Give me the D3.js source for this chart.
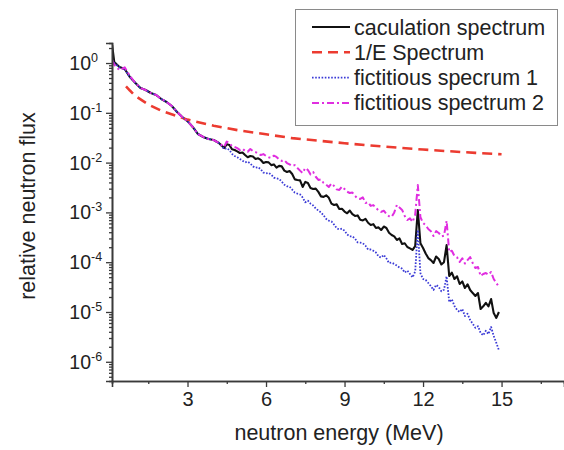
<!DOCTYPE html>
<html>
<head>
<meta charset="utf-8">
<script src="https://cdn.jsdelivr.net/npm/d3@7"></script>
<style>
  html, body { margin: 0; padding: 0; background: #fff; }
  svg { display: block; font-family: "Liberation Sans", Arial, sans-serif; }
</style>
</head>
<body>
<svg id="chart" width="564" height="450"></svg>
<script>
// Neutron energy grid (MeV): 0.2 MeV steps below 4.4 MeV, 0.1 MeV steps above
const energies = [0.12, 0.2, 0.4, 0.6, 0.8, 1.0, 1.2, 1.4, 1.6, 1.8, 2.0, 2.2, 2.4, 2.6, 2.8, 3.0,
  3.2, 3.4, 3.6, 3.8, 4.0, 4.2, 4.4, 4.5, 4.6, 4.7, 4.8, 4.9,
  5.0, 5.1, 5.2, 5.3, 5.4, 5.5, 5.6, 5.7, 5.8, 5.9,
  6.0, 6.1, 6.2, 6.3, 6.4, 6.5, 6.6, 6.7, 6.8, 6.9,
  7.0, 7.1, 7.2, 7.3, 7.4, 7.5, 7.6, 7.7, 7.8, 7.9,
  8.0, 8.1, 8.2, 8.3, 8.4, 8.5, 8.6, 8.7, 8.8, 8.9,
  9.0, 9.1, 9.2, 9.3, 9.4, 9.5, 9.6, 9.7, 9.8, 9.9,
  10.0, 10.1, 10.2, 10.3, 10.4, 10.5, 10.6, 10.7, 10.8, 10.9,
  11.0, 11.1, 11.2, 11.3, 11.4, 11.5, 11.6, 11.7, 11.8, 11.9,
  12.0, 12.1, 12.2, 12.3, 12.4, 12.5, 12.6, 12.7, 12.8, 12.9,
  13.0, 13.1, 13.2, 13.3, 13.4, 13.5, 13.6, 13.7, 13.8, 13.9,
  14.0, 14.1, 14.2, 14.3, 14.4, 14.5, 14.6, 14.7, 14.8, 14.9];

// Calculated spectrum
const calcSpectrum = [2.3, 1.05, 0.83, 0.76, 0.52, 0.40, 0.315, 0.287, 0.25, 0.228, 0.189, 0.165, 0.137, 0.104, 0.082, 0.068,
  0.052, 0.0375, 0.0327, 0.0298, 0.0284, 0.0248, 0.0196, 0.0235, 0.0226, 0.0185, 0.0179, 0.0168,
  0.0156, 0.0160, 0.0142, 0.0128, 0.0136, 0.0133, 0.0118, 0.0122, 0.0113, 0.0098,
  0.0103, 0.0101, 0.0089, 0.0092, 0.0079, 0.0086, 0.0084, 0.0069, 0.00648, 0.0068,
  0.0059, 0.0046, 0.00448, 0.0044, 0.00324, 0.0041, 0.00389, 0.0031, 0.00295, 0.0030,
  0.00258, 0.0021, 0.00205, 0.0022, 0.00196, 0.0015, 0.00141, 0.00145, 0.00117, 0.00118,
  0.00104, 0.00096, 0.00109, 0.00092, 0.000847, 0.00087, 0.00071, 0.00069, 0.00074, 0.00062,
  0.00056, 0.00058, 0.000486, 0.00050, 0.000443, 0.00052, 0.000486, 0.00039, 0.000352, 0.00033,
  0.000279, 0.00030, 0.000232, 0.00024, 0.000202, 0.00019, 0.000176, 0.00021, 0.00112, 0.00024,
  0.000193, 0.00015, 0.000121, 0.00011, 0.0000964, 0.00013, 0.000116, 0.00009, 0.00010, 0.00022,
  0.0000528, 0.000062, 0.000046, 0.000052, 0.0000365, 0.000041, 0.0000303, 0.000036, 0.0000277, 0.000024,
  0.000021, 0.000024, 0.0000115, 0.000013, 0.0000152, 0.000013, 0.0000182, 0.0000095, 0.0000076, 0.00001];

// Fictitious spectrum 1
const fict1 = [1.15, 1.0, 0.82, 0.75, 0.52, 0.40, 0.315, 0.287, 0.25, 0.228, 0.189, 0.165, 0.137, 0.104, 0.082, 0.068,
  0.052, 0.0375, 0.0327, 0.0298, 0.0284, 0.0248, 0.0188, 0.0195, 0.0179, 0.0150, 0.0136, 0.0128,
  0.0118, 0.0109, 0.0101, 0.0104, 0.0096, 0.0084, 0.0079, 0.0081, 0.0073, 0.0063,
  0.00605, 0.0062, 0.00574, 0.0050, 0.00482, 0.0047, 0.00415, 0.0036, 0.00334, 0.0033,
  0.00287, 0.0025, 0.00238, 0.0023, 0.00199, 0.0016, 0.00172, 0.0015, 0.00138, 0.0012,
  0.00109, 0.0010, 0.00087, 0.00074, 0.00068, 0.00066, 0.00057, 0.00048, 0.000455, 0.00047,
  0.00043, 0.00036, 0.00033, 0.00033, 0.000298, 0.00025, 0.000248, 0.00024, 0.000215, 0.00018,
  0.00018, 0.00017, 0.000157, 0.00013, 0.000124, 0.00014, 0.000119, 0.000096, 0.000098, 0.000092,
  0.0000855, 0.000078, 0.0000745, 0.000062, 0.000068, 0.000058, 0.0000495, 0.000065, 0.000443, 0.00006,
  0.000046, 0.000044, 0.0000382, 0.000033, 0.0000277, 0.000035, 0.0000318, 0.000026, 0.000028, 0.000052,
  0.0000159, 0.000018, 0.0000132, 0.000011, 0.00001, 0.0000115, 0.0000083, 0.0000092, 0.0000069, 0.0000058,
  0.0000048, 0.0000052, 0.0000038, 0.0000034, 0.0000042, 0.0000036, 0.000005, 0.0000033, 0.0000024, 0.0000017];

// Fictitious spectrum 2
const fict2 = [1.15, 0.92, 0.72, 0.82, 0.55, 0.40, 0.315, 0.287, 0.25, 0.228, 0.189, 0.165, 0.137, 0.104, 0.082, 0.068,
  0.052, 0.0375, 0.0327, 0.0298, 0.0284, 0.0248, 0.0206, 0.0265, 0.0248, 0.0215, 0.0206, 0.0195,
  0.0179, 0.0190, 0.0171, 0.0165, 0.0188, 0.0170, 0.0163, 0.0152, 0.0142, 0.0148,
  0.0136, 0.0128, 0.0124, 0.0138, 0.0130, 0.0116, 0.0108, 0.0112, 0.0098, 0.0092,
  0.00855, 0.0089, 0.0078, 0.0069, 0.00618, 0.0078, 0.0071, 0.0058, 0.00648, 0.0052,
  0.00448, 0.0046, 0.00389, 0.0036, 0.00324, 0.0038, 0.00339, 0.0029, 0.00282, 0.0033,
  0.00295, 0.0026, 0.00245, 0.0025, 0.00214, 0.0019, 0.00186, 0.0020, 0.00155, 0.0016,
  0.00135, 0.0014, 0.00123, 0.0011, 0.00102, 0.00108, 0.00093, 0.00084, 0.00081, 0.0010,
  0.00141, 0.00125, 0.00112, 0.00085, 0.000703, 0.00076, 0.000641, 0.0009, 0.00355, 0.0008,
  0.000612, 0.00055, 0.000464, 0.00042, 0.000336, 0.00042, 0.000386, 0.00033, 0.00034, 0.00068,
  0.00016, 0.00017, 0.000133, 0.000125, 0.000101, 0.00012, 0.000094, 0.00011, 0.000127, 0.000095,
  0.0000766, 0.00008, 0.0000528, 0.000058, 0.0000607, 0.000056, 0.0000636, 0.000046, 0.0000382, 0.0000318];

// 1/E reference spectrum
const invEEnergies = [0.65, 0.8, 1.0, 1.5, 2, 3, 4, 5, 6, 7, 8, 9, 10, 11, 12, 13, 14, 15];
const invESpectrum = [0.34, 0.28, 0.22, 0.147, 0.11, 0.073, 0.055, 0.044, 0.037, 0.031, 0.0275, 0.0245, 0.022, 0.02, 0.0183, 0.0169, 0.0157, 0.0147];

const xMajorTicks = [3, 6, 9, 12, 15];
const xMinorTicks = [1.5, 4.5, 7.5, 10.5, 13.5, 16.5];
const yMajorExponents = [0, -1, -2, -3, -4, -5, -6];

const legendLabels = ["caculation spectrum", "1/E Spectrum", "fictitious specrum 1", "fictitious spectrum 2"];

const svg = d3.select("#chart");
const W = 564, H = 450;
svg.append("rect").attr("width", W).attr("height", H).attr("fill", "#fff");

const mLeft = 112, mRight = 564, mTop = 43, mBottom = 381;
const x = d3.scaleLinear().domain([0.1146, 17.386]).range([mLeft, mRight]);
const y = d3.scaleLog().domain([Math.pow(10, -6.386), Math.pow(10, 0.402)]).range([mBottom, mTop]);

svg.append("defs").append("clipPath").attr("id", "plotclip")
  .append("rect").attr("x", mLeft).attr("y", mTop - 4).attr("width", mRight - mLeft).attr("height", mBottom - mTop + 4);

const styles = {
  calc: { color: "#111", width: 2.1, dash: null },
  invE: { color: "#ec3b30", width: 2.6, dash: "10,6" },
  f1: { color: "#3a3ad6", width: 1.8, dash: "1.6,1.6" },
  f2: { color: "#e02ee0", width: 2, dash: "7,3,2,3" }
};

const line = d3.line().x(d => x(d[0])).y(d => y(d[1]));
const plot = svg.append("g").attr("clip-path", "url(#plotclip)");

function drawSeries(xs, ys, st) {
  const path = plot.append("path")
    .datum(xs.map((e, i) => [e, ys[i]]))
    .attr("d", line)
    .attr("fill", "none")
    .attr("stroke", st.color)
    .attr("stroke-width", st.width)
    .attr("stroke-linejoin", "round");
  if (st.dash) path.attr("stroke-dasharray", st.dash);
}

drawSeries(energies, calcSpectrum, styles.calc);
drawSeries(invEEnergies, invESpectrum, styles.invE);
drawSeries(energies, fict1, styles.f1);
drawSeries(energies, fict2, styles.f2);

// Axes
const axisColor = "#3a3a3a";
const xMinorAxis = svg.append("g").attr("transform", `translate(0,${mBottom})`)
  .call(d3.axisBottom(x).tickValues(xMinorTicks).tickSize(3).tickFormat(""));
const xAxis = svg.append("g").attr("transform", `translate(0,${mBottom})`)
  .call(d3.axisBottom(x).tickValues(xMajorTicks).tickSize(6).tickPadding(5).tickFormat(d3.format("d")));
xAxis.selectAll("text").attr("font-size", 20).attr("fill", "#222").attr("font-family", "Liberation Sans, Arial, sans-serif");

const yMinorVals = [];
for (let k = -7; k <= 0; k++) {
  for (let m = 2; m <= 9; m++) {
    const v = m * Math.pow(10, k);
    if (v >= y.domain()[0] && v <= y.domain()[1]) yMinorVals.push(v);
  }
}
const yMinorAxis = svg.append("g").attr("transform", `translate(${mLeft},0)`)
  .call(d3.axisLeft(y).tickValues(yMinorVals).tickSize(3).tickFormat(""));
const yAxis = svg.append("g").attr("transform", `translate(${mLeft},0)`)
  .call(d3.axisLeft(y).tickValues(yMajorExponents.map(e => Math.pow(10, e))).tickSize(6).tickFormat(""));

[xMinorAxis, xAxis, yMinorAxis, yAxis].forEach(g => {
  g.selectAll("path.domain").attr("stroke", axisColor).attr("stroke-width", 1.6);
  g.selectAll(".tick line").attr("stroke", axisColor).attr("stroke-width", 1.3);
});

// y tick labels as powers of ten
yMajorExponents.forEach(e => {
  svg.append("text")
    .attr("x", 91).attr("y", y(Math.pow(10, e)) + 7)
    .attr("text-anchor", "end")
    .attr("font-size", 19.5).attr("fill", "#222")
    .text("10");
  svg.append("text")
    .attr("x", 91).attr("y", y(Math.pow(10, e)) - 1)
    .attr("font-size", 12.5).attr("fill", "#222")
    .text(e === 0 ? "0" : "-" + Math.abs(e));
});

// Axis titles
svg.append("text")
  .attr("x", 339).attr("y", 440)
  .attr("text-anchor", "middle")
  .attr("font-size", 21.5).attr("fill", "#222")
  .text("neutron energy (MeV)");

svg.append("text")
  .attr("transform", "translate(35,206) rotate(-90)")
  .attr("text-anchor", "middle")
  .attr("font-size", 21.5).attr("fill", "#222")
  .text("relative neutron flux");

// Legend
const lg = svg.append("g");
lg.append("rect").attr("x", 295.5).attr("y", 9.5).attr("width", 262).attr("height", 116)
  .attr("fill", "#fff").attr("stroke", "#8a8a8a").attr("stroke-width", 1);
const legendStyles = [styles.calc, styles.invE, styles.f1, styles.f2];
legendLabels.forEach((lab, i) => {
  const cy = 27 + i * 25.3;
  const st = legendStyles[i];
  const l = lg.append("line").attr("x1", 312).attr("x2", 350).attr("y1", cy).attr("y2", cy)
    .attr("stroke", st.color).attr("stroke-width", st.width);
  if (st.dash) l.attr("stroke-dasharray", st.dash);
  lg.append("text").attr("x", 354).attr("y", cy + 7.5)
    .attr("font-size", 21.5).attr("fill", "#222").text(lab);
});
</script>
</body>
</html>
